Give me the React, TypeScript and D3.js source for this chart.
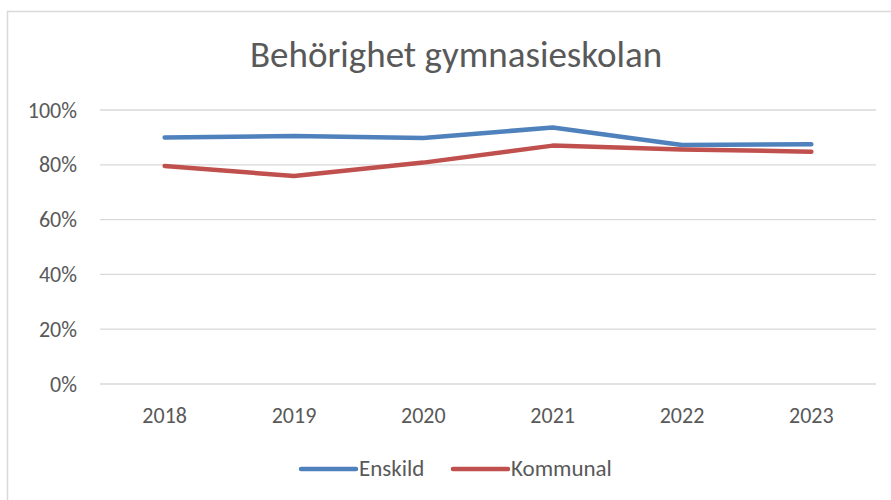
import React from 'react';
import * as d3 from 'd3';

const years = ['2018', '2019', '2020', '2021', '2022', '2023'];
const enskild = [0.900, 0.905, 0.898, 0.936, 0.872, 0.875];
const kommunal = [0.796, 0.759, 0.808, 0.870, 0.856, 0.848];
const yTicks = [0, 0.2, 0.4, 0.6, 0.8, 1.0];

const series = [
  { name: 'Enskild', values: enskild, color: '#4F81BD' },
  { name: 'Kommunal', values: kommunal, color: '#C0504D' }
];

const W = 891;
const H = 500;
const textColor = '#595959';
const font = 'Carlito, Calibri, "Open Sans", sans-serif';

const App: React.FC = () => {
  const margin = { top: 110, right: 15, bottom: 116, left: 100 };

  const x = d3.scaleBand()
    .domain(years)
    .range([margin.left, W - margin.right]);

  const y = d3.scaleLinear()
    .domain([0, 1])
    .range([H - margin.bottom, margin.top]);

  const line = d3.line<number>()
    .x((_, i) => (x(years[i]) || 0) + x.bandwidth() / 2)
    .y(d => y(d));

  const fmt = d3.format('.0%');

  return (
    <svg
      width={W}
      height={H}
      style={{ position: 'fixed', left: 0, top: 0, background: '#fff' }}
      fontFamily={font}
    >
      <rect x={7.5} y={11.5} width={W + 10} height={H + 10} fill="#fff" stroke="#D9D9D9" strokeWidth={1.5} />

      <text x={456} y={67} textAnchor="middle" fontSize={37} fill={textColor}>
        Behörighet gymnasieskolan
      </text>

      {/* grid + y labels */}
      {yTicks.map(t => (
        <g key={t}>
          <line x1={margin.left} x2={W - margin.right} y1={y(t)} y2={y(t)} stroke="#D9D9D9" strokeWidth={1.3} />
          <text x={77} y={y(t) + 7.5} textAnchor="end" fontSize={22} fill={textColor}>
            {fmt(t)}
          </text>
        </g>
      ))}

      {/* x labels */}
      {years.map(yr => (
        <text key={yr} x={(x(yr) || 0) + x.bandwidth() / 2} y={423} textAnchor="middle" fontSize={22} fill={textColor}>
          {yr}
        </text>
      ))}

      {series.map(s => (
        <path
          key={s.name}
          d={line(s.values) || ''}
          fill="none"
          stroke={s.color}
          strokeWidth={4.5}
          strokeLinecap="round"
          strokeLinejoin="round"
        />
      ))}

      {/* legend */}
      {series.map((s, i) => {
        const lx = 301 + i * 152;
        return (
          <g key={s.name}>
            <line x1={lx} x2={lx + 55} y1={469} y2={469} stroke={s.color} strokeWidth={4.5} strokeLinecap="round" />
            <text x={lx + 58} y={476} fontSize={23} fill={textColor}>
              {s.name}
            </text>
          </g>
        );
      })}
    </svg>
  );
};

export default App;
